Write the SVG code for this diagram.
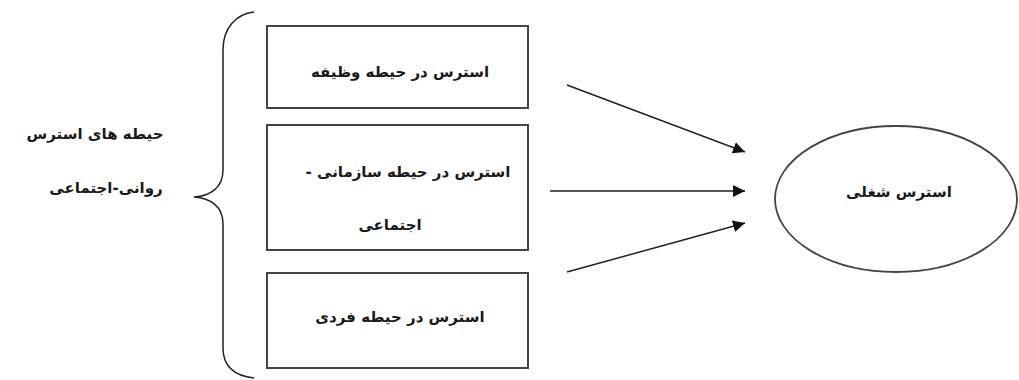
<svg xmlns="http://www.w3.org/2000/svg" width="1019" height="380" viewBox="0 0 1019 380">
<style>
.box{fill:#fff;stroke:#444;stroke-width:2}
.t{font-family:"DejaVu Sans","Noto Sans",sans-serif;font-size:15px;font-weight:bold;fill:#1a1a1a;text-anchor:middle;direction:rtl}
.c{stroke:#222;stroke-width:1.5;fill:none}
</style>
<defs>
<marker id="ah" viewBox="0 0 10 10" refX="10" refY="5" markerWidth="12" markerHeight="12" markerUnits="userSpaceOnUse" orient="auto">
<path d="M0,0 L10,5 L0,10 z" fill="#111"/>
</marker>
</defs>
<rect width="1019" height="380" fill="#fff"/>
<g id="group-label">
<path class="c" stroke="#555" d="M254,12 C236,14 223,28 223,50 L223,170 C223,188 210,196 194,197 C210,198 223,206 223,224 L223,348 C223,368 236,376 254,378"/>
<text class="t" x="95" y="139">حیطه های استرس</text>
<text class="t" x="106" y="193">روانی-اجتماعی</text>
</g>
<g id="node-task">
<rect class="box" x="267" y="26" width="261" height="82"/>
<text class="t" x="400" y="77">استرس در حیطه وظیفه</text>
</g>
<g id="node-org">
<rect class="box" x="267" y="125" width="261" height="125"/>
<text class="t" x="408" y="177">استرس در حیطه سازمانی -</text>
<text class="t" x="390" y="230">اجتماعی</text>
</g>
<g id="node-individual">
<rect class="box" x="267" y="273" width="261" height="95"/>
<text class="t" x="400" y="322">استرس در حیطه فردی</text>
</g>
<g id="node-job-stress">
<ellipse cx="896" cy="199" rx="121" ry="73" fill="#fff" stroke="#444" stroke-width="1.8"/>
<text class="t" x="899" y="197">استرس شغلی</text>
</g>
<g id="connectors">
<line class="c" x1="567" y1="85" x2="745" y2="152" marker-end="url(#ah)"/>
<line class="c" x1="550" y1="191" x2="745" y2="191" marker-end="url(#ah)"/>
<line class="c" x1="567" y1="272" x2="745" y2="223" marker-end="url(#ah)"/>
</g>
</svg>
